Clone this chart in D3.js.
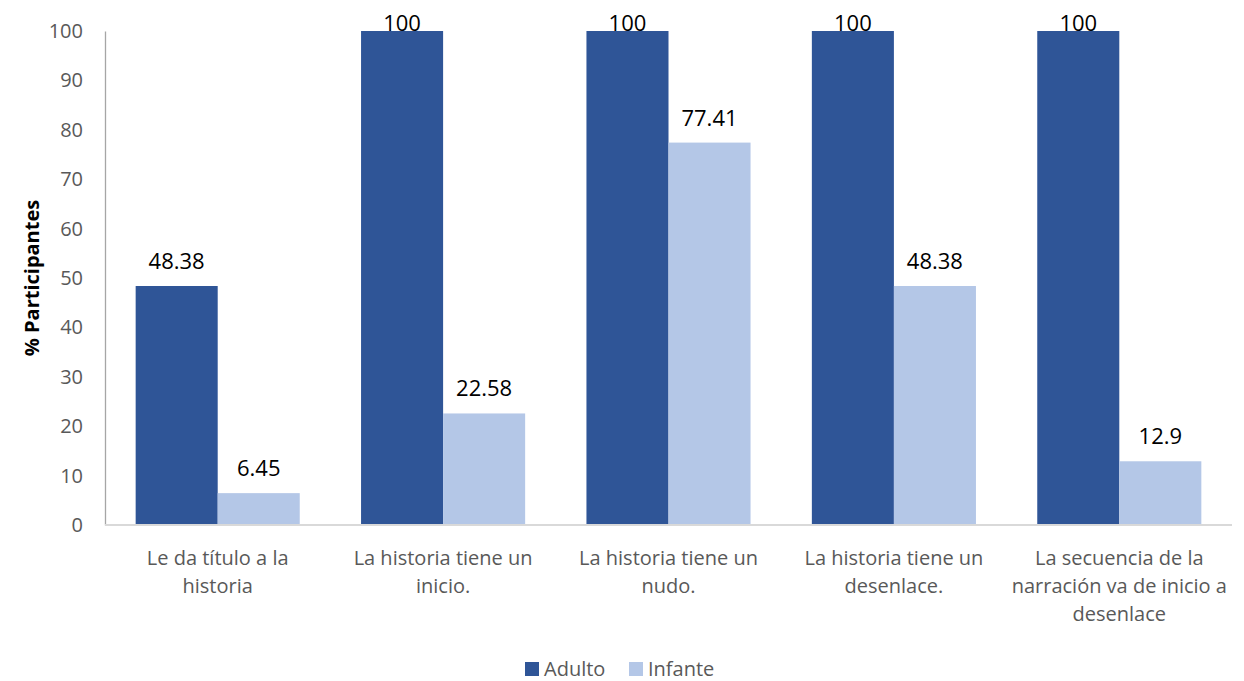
<!DOCTYPE html>
<html>
<head>
<meta charset="utf-8">
<script src="https://cdn.jsdelivr.net/npm/d3@7"></script>
<style>
  body { margin: 0; background: #fff; }
  text { font-family: "Open Sans", "Noto Sans", sans-serif; }
</style>
</head>
<body>
<svg></svg>
<script>
const categories = [
  ["Le da título a la", "historia"],
  ["La historia tiene un", "inicio."],
  ["La historia tiene un", "nudo."],
  ["La historia tiene un", "desenlace."],
  ["La secuencia de la", "narración va de inicio a", "desenlace"]
];
const seriesNames = ["Adulto", "Infante"];
const adulto = [48.38, 100, 100, 100, 100];
const infante = [6.45, 22.58, 77.41, 48.38, 12.9];
const yTicks = [0, 10, 20, 30, 40, 50, 60, 70, 80, 90, 100];
const colors = ["#2F5597", "#B4C7E7"];

(function chart() {
  const width = 1244, height = 681;
  const svg = d3.select("svg").attr("width", width).attr("height", height);
  const margin = { left: 105, right: 12, top: 31, bottom: 156 };

  const x0 = d3.scaleBand()
      .domain(d3.range(categories.length))
      .range([margin.left, width - margin.right])
      .paddingInner(0.272)
      .paddingOuter(0.136);
  const x1 = d3.scaleBand()
      .domain(seriesNames)
      .range([0, x0.bandwidth()]);
  const y = d3.scaleLinear()
      .domain([0, 100])
      .range([height - margin.bottom, margin.top]);
  const color = d3.scaleOrdinal().domain(seriesNames).range(colors);

  const data = categories.map((c, i) => ({ i, values: [adulto[i], infante[i]] }));

  // y axis
  const yAxis = svg.append("g")
      .attr("transform", `translate(${margin.left},0)`)
      .call(d3.axisLeft(y).tickValues(yTicks).tickSize(0).tickPadding(22));
  yAxis.select(".domain").attr("stroke", "#A6A6A6").attr("stroke-width", 1.3);
  yAxis.selectAll("text").attr("fill", "#595959").style("font-size", "20px");

  // bars
  const groups = svg.append("g").selectAll("g")
      .data(data)
      .join("g")
      .attr("transform", d => `translate(${x0(d.i)},0)`);

  groups.selectAll("rect")
      .data(d => d.values.map((v, k) => ({ key: seriesNames[k], v })))
      .join("rect")
      .attr("x", d => x1(d.key))
      .attr("width", x1.bandwidth())
      .attr("y", d => y(d.v))
      .attr("height", d => y(0) - y(d.v))
      .attr("fill", d => color(d.key));

  groups.selectAll("text.val")
      .data(d => d.values.map((v, k) => ({ key: seriesNames[k], v })))
      .join("text")
      .attr("class", "val")
      .attr("x", d => x1(d.key) + x1.bandwidth() / 2)
      .attr("y", d => Math.max(y(d.v) - 17, margin.top))
      .attr("text-anchor", "middle")
      .attr("fill", "#000")
      .style("font-size", "22px")
      .text(d => d.v);

  // x axis line
  svg.append("line")
      .attr("x1", margin.left).attr("x2", width - margin.right)
      .attr("y1", y(0)).attr("y2", y(0))
      .attr("stroke", "#D9D9D9").attr("stroke-width", 2);

  // category labels
  svg.append("g").selectAll("text")
      .data(categories)
      .join("text")
      .attr("x", (d, i) => x0(i) + x0.bandwidth() / 2)
      .attr("y", y(0) + 40)
      .attr("text-anchor", "middle")
      .attr("fill", "#595959")
      .style("font-size", "20px")
      .selectAll("tspan")
      .data(d => d)
      .join("tspan")
      .attr("x", function() { return this.parentNode.getAttribute("x"); })
      .attr("dy", (d, j) => j === 0 ? 0 : 28)
      .text(d => d);

  // y title
  svg.append("text")
      .attr("transform", `translate(39,${(y(0) + y(100)) / 2}) rotate(-90)`)
      .attr("text-anchor", "middle")
      .attr("fill", "#000")
      .style("font-size", "20px")
      .style("font-weight", "bold")
      .text("% Participantes");

  // legend
  const legend = svg.append("g").attr("transform", "translate(525,669)");
  const items = [{ name: "Adulto", dx: 0 }, { name: "Infante", dx: 104 }];
  items.forEach(it => {
    legend.append("rect")
        .attr("x", it.dx).attr("y", -7)
        .attr("width", 14).attr("height", 14)
        .attr("fill", color(it.name));
    legend.append("text")
        .attr("x", it.dx + 19).attr("y", 0)
        .attr("dy", "0.35em")
        .attr("fill", "#595959")
        .style("font-size", "20px")
        .text(it.name);
  });
})();
</script>
</body>
</html>
